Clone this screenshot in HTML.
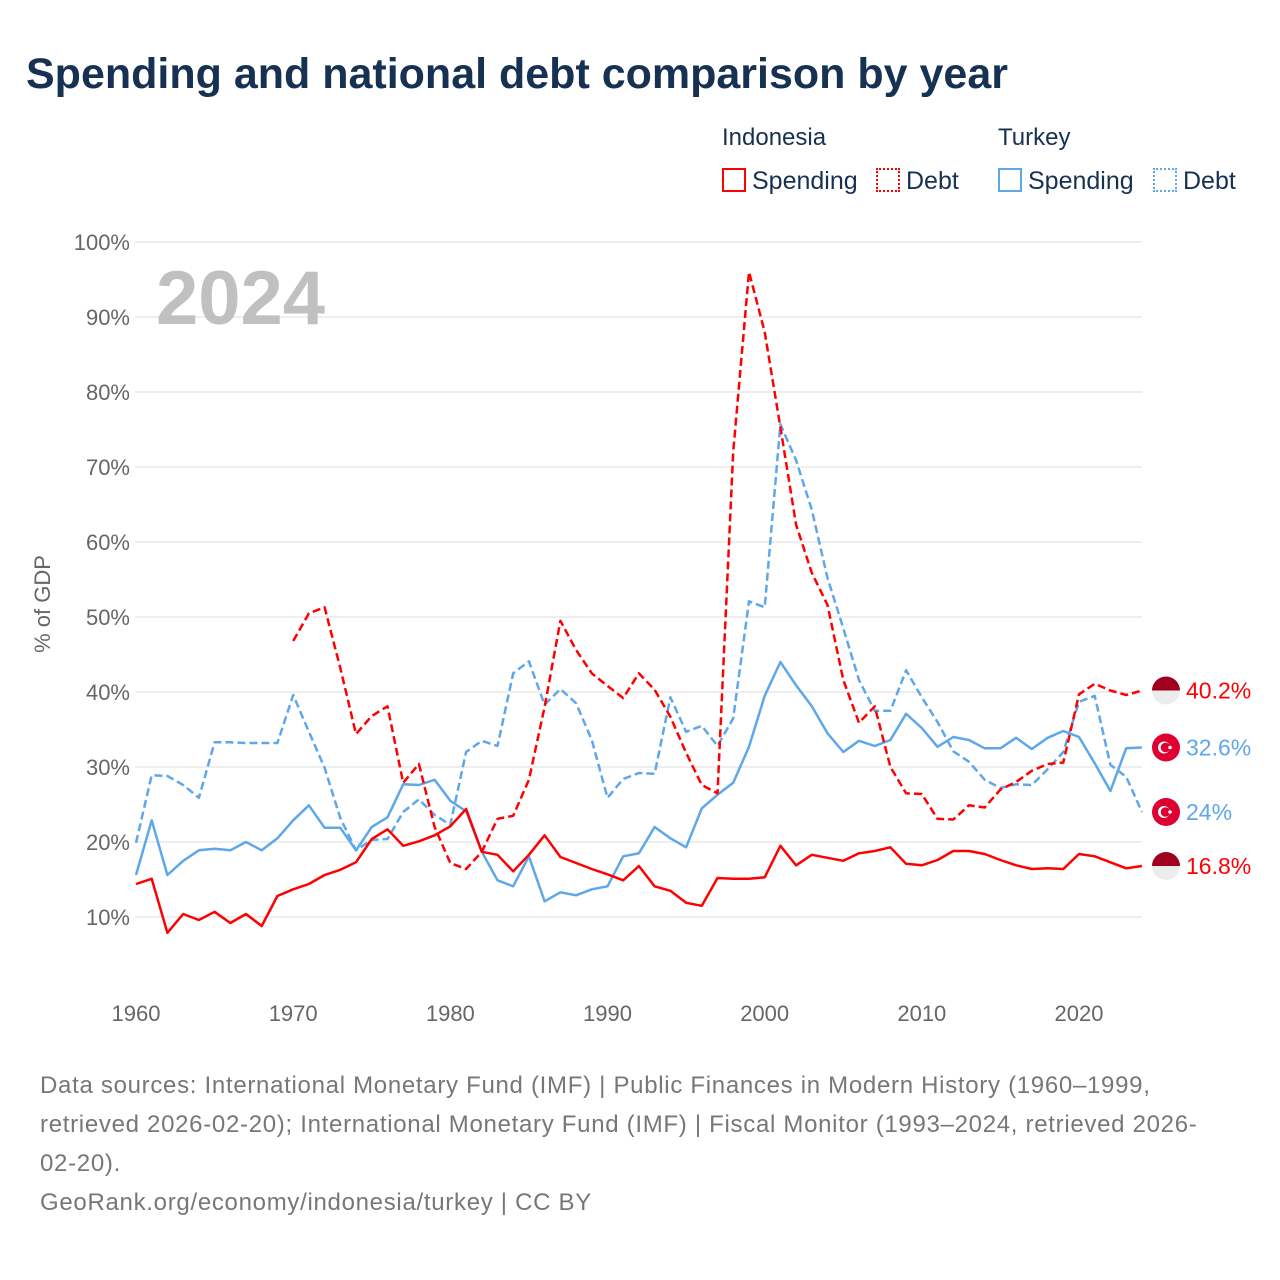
<!DOCTYPE html>
<html><head><meta charset="utf-8">
<style>
html,body{margin:0;padding:0;background:#fff;}
body{width:1280px;height:1280px;position:relative;overflow:hidden;font-family:"Liberation Sans",sans-serif;}
.t{position:absolute;white-space:nowrap;}
</style></head>
<body>
<div class="t" style="left:26px;top:50px;font-size:43px;font-weight:bold;color:#173152;">Spending and national debt comparison by year</div>

<div class="t" style="left:722px;top:124px;font-size:24px;color:#173152;">Indonesia</div>
<div class="t" style="left:998px;top:124px;font-size:24px;color:#173152;">Turkey</div>
<div class="t" style="left:722px;top:167px;font-size:25px;color:#173152;"><span style="display:inline-block;width:20px;height:20px;border:2px solid #f00;vertical-align:-3px;margin-right:6px;"></span>Spending</div>
<div class="t" style="left:876px;top:167px;font-size:25px;color:#173152;"><span style="display:inline-block;width:20px;height:20px;border:2px dotted #f00;vertical-align:-3px;margin-right:6px;"></span>Debt</div>
<div class="t" style="left:998px;top:167px;font-size:25px;color:#173152;"><span style="display:inline-block;width:20px;height:20px;border:2px solid #5ea7ea;vertical-align:-3px;margin-right:6px;"></span>Spending</div>
<div class="t" style="left:1153px;top:167px;font-size:25px;color:#173152;"><span style="display:inline-block;width:20px;height:20px;border:2px dotted #5ea7ea;vertical-align:-3px;margin-right:6px;"></span>Debt</div>

<svg id="chart" width="1280" height="1280" style="position:absolute;left:0;top:0;" xmlns="http://www.w3.org/2000/svg"></svg>

<div class="t" style="left:40px;top:1066px;font-size:24px;letter-spacing:0.7px;line-height:39px;color:#777;">Data sources: International Monetary Fund (IMF) | Public Finances in Modern History (1960–1999,<br>retrieved 2026-02-20); International Monetary Fund (IMF) | Fiscal Monitor (1993–2024, retrieved 2026-<br>02-20).<br>GeoRank.org/economy/indonesia/turkey | CC BY</div>

<script>
const years = [];
for (let y = 1960; y <= 2024; y++) years.push(y);
const idnSpending = [14.4,15.1,7.9,10.4,9.6,10.7,9.2,10.4,8.8,12.8,13.7,14.4,15.6,16.3,17.3,20.4,21.7,19.5,20.1,20.9,22.1,24.4,18.7,18.3,16.1,18.3,20.9,18.0,17.2,16.4,15.7,14.9,16.8,14.1,13.5,11.9,11.5,15.2,15.1,15.1,15.3,19.5,16.9,18.3,17.9,17.5,18.5,18.8,19.3,17.1,16.9,17.6,18.8,18.8,18.4,17.6,16.9,16.4,16.5,16.4,18.4,18.1,17.3,16.5,16.8];
const idnDebt = [null,null,null,null,null,null,null,null,null,null,46.8,50.5,51.3,43.2,34.4,36.8,38.1,27.9,30.4,22.0,17.2,16.4,18.7,23.1,23.5,28.3,38.0,49.5,45.6,42.5,40.8,39.2,42.5,40.3,36.7,31.9,27.6,26.5,72.0,96.0,88.0,75.3,62.3,55.9,51.6,41.6,35.9,38.1,30.0,26.5,26.4,23.1,23.0,24.9,24.6,27.0,28.0,29.5,30.4,30.6,39.7,41.1,40.2,39.6,40.2];
const turSpending = [15.6,22.9,15.6,17.5,18.9,19.1,18.9,20.0,18.9,20.5,22.9,24.9,21.9,21.9,18.9,22.0,23.3,27.7,27.6,28.3,25.5,24.1,18.7,14.9,14.1,18.1,12.1,13.3,12.9,13.7,14.1,18.1,18.5,22.0,20.5,19.3,24.5,26.3,27.9,32.7,39.5,44.0,40.9,38.1,34.5,32.0,33.5,32.8,33.6,37.1,35.2,32.7,34.0,33.6,32.5,32.5,33.9,32.4,33.9,34.8,34.0,30.5,26.8,32.5,32.6];
const turDebt = [19.9,28.9,28.8,27.6,25.9,33.3,33.3,33.2,33.2,33.2,39.6,34.7,29.9,23.2,18.9,20.3,20.4,24.0,25.7,23.6,22.3,32.0,33.5,32.8,42.5,44.1,38.3,40.4,38.5,33.6,25.9,28.4,29.2,29.1,39.3,34.7,35.5,32.8,36.5,52.1,51.3,75.7,70.9,64.3,55.2,48.5,41.6,37.5,37.5,42.9,39.3,36.0,32.1,30.7,28.3,27.2,27.7,27.6,29.7,32.0,38.7,39.5,30.3,28.7,24.0];
const yTicks = [10,20,30,40,50,60,70,80,90,100];
const xTicks = [1960,1970,1980,1990,2000,2010,2020];

const NS = "http://www.w3.org/2000/svg";
const svg = document.getElementById('chart');
const X0 = 136, X1 = 1079, Y0 = 992, PER10 = 75;
const xs = y => X0 + (y - 1960) * (X1 - X0) / 60;
const ys = v => Y0 - v * PER10 / 10;
function mk(tag, attrs) { const e = document.createElementNS(NS, tag); for (const k in attrs) e.setAttribute(k, attrs[k]); svg.appendChild(e); return e; }

yTicks.forEach(v => {
  const l = mk('line', {x1: 135, x2: 1142, y1: ys(v), y2: ys(v), stroke: '#e8e8e8', 'stroke-width': 1.5});
  
  
  const t = mk('text', {x: 130, y: ys(v) + 8, 'text-anchor': 'end', 'font-size': 22, fill: '#666', 'font-family': 'Liberation Sans, sans-serif'});
  t.textContent = v + '%';
  
  
});
xTicks.forEach(v => {
  const t = mk('text', {x: xs(v), y: 1021, 'text-anchor': 'middle', 'font-size': 22, fill: '#666', 'font-family': 'Liberation Sans, sans-serif'});
  t.textContent = v;
  
  
});
const yt = mk('text', {x: 0, y: 0, transform: 'translate(50,604) rotate(-90)', 'text-anchor': 'middle', 'font-size': 22, fill: '#666', 'font-family': 'Liberation Sans, sans-serif'});
yt.textContent = '% of GDP';


const yr = mk('text', {x: 156, y: 324, 'font-size': 76, 'font-weight': 'bold', fill: '#c0c0c0', 'font-family': 'Liberation Sans, sans-serif'});
yr.textContent = '2024';



function series(vals, color, dashed, name) {
  let d = '', pen = false;
  vals.forEach((v, i) => {
    if (v == null) { pen = false; return; }
    d += (pen ? 'L' : 'M') + xs(years[i]).toFixed(1) + ',' + ys(v).toFixed(1);
    pen = true;
  });
  const p = mk('path', {d: d, fill: 'none', stroke: color, 'stroke-width': 2.5, 'stroke-linejoin': 'round'});
  if (dashed) p.setAttribute('stroke-dasharray', '8,4');
  
  
}
series(turDebt, '#5ea7ea', true, 'line-turkey-debt');
series(turSpending, '#5ea7ea', false, 'line-turkey-spending');
series(idnDebt, '#ff0000', true, 'line-indonesia-debt');
series(idnSpending, '#ff0000', false, 'line-indonesia-spending');

function flag(v, country, color, name) {
  const cx = 1166, cy = ys(v);
  const g = document.createElementNS(NS, 'g'); svg.appendChild(g);
  
  
  if (country === 'idn') {
    g.innerHTML = `<circle cx="${cx}" cy="${cy}" r="14" fill="#ececec"/><path d="M${cx-14},${cy} A14,14 0 0 1 ${cx+14},${cy} Z" fill="#a0001e"/>`;
  } else {
    g.innerHTML = `<circle cx="${cx}" cy="${cy}" r="14" fill="#dd0030"/><circle cx="${cx-2}" cy="${cy}" r="6" fill="#fff"/><circle cx="${cx-0.5}" cy="${cy}" r="4.8" fill="#dd0030"/><circle cx="${cx+4}" cy="${cy}" r="1.8" fill="#fff"/>`;
  }
  const t = mk('text', {x: 1186, y: cy + 8, 'font-size': 23, fill: color, 'font-family': 'Liberation Sans, sans-serif'});
  t.textContent = v + '%';
  
  
}
flag(idnDebt[idnDebt.length-1], 'idn', '#ff0000', 'indonesia-debt');
flag(turSpending[turSpending.length-1], 'tur', '#5ea7ea', 'turkey-spending');
flag(turDebt[turDebt.length-1], 'tur', '#5ea7ea', 'turkey-debt');
flag(idnSpending[idnSpending.length-1], 'idn', '#ff0000', 'indonesia-spending');
</script>
</body></html>
